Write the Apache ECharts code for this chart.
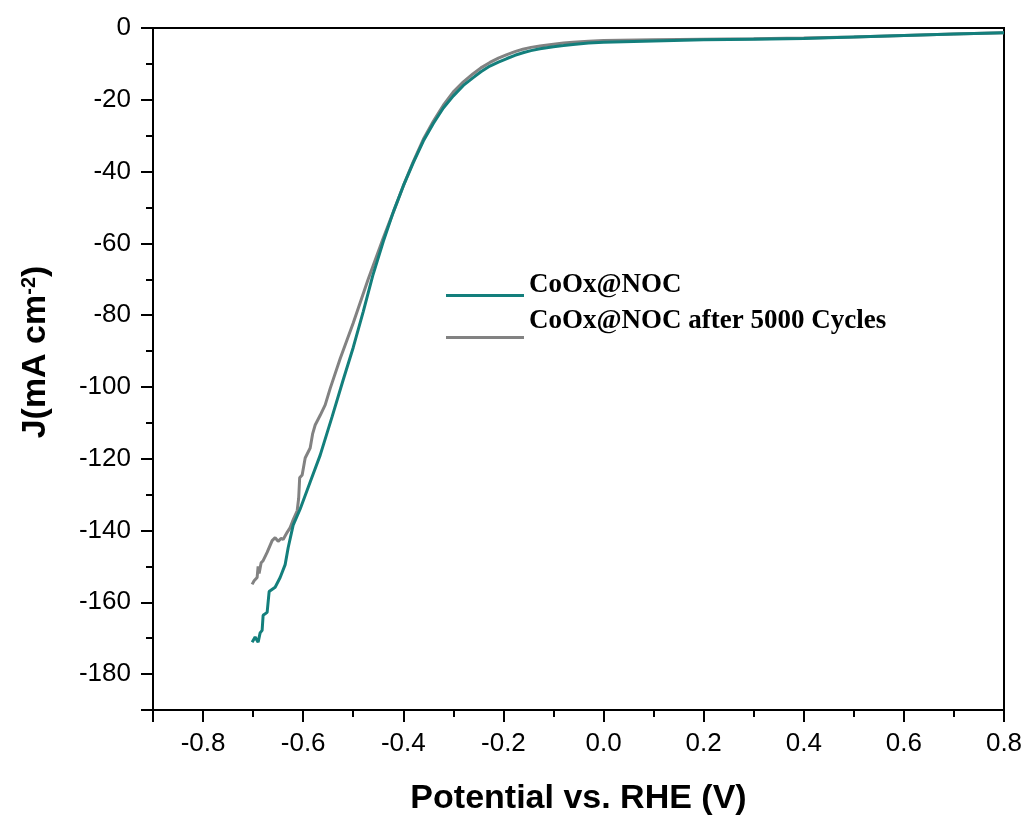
<!DOCTYPE html>
<html>
<head>
<meta charset="utf-8">
<script src="https://cdn.jsdelivr.net/npm/echarts@6/dist/echarts.min.js"></script>
<style>
html,body{margin:0;padding:0;background:#fff;}
#chart{width:1026px;height:821px;}
</style>
</head>
<body>
<div id="chart"></div>
<script>
// Potential (V vs RHE) and current density (mA cm^-2)
const seriesNames = ['CoOx@NOC', 'CoOx@NOC after 5000 Cycles'];

const freshX = [-0.702,-0.696,-0.690,-0.686,-0.682,-0.680,-0.672,-0.668,-0.656,-0.646,-0.636,-0.630,-0.620,-0.606,-0.586,-0.566,-0.542,-0.520,-0.500,-0.480,-0.461,-0.440,-0.420,-0.400,-0.380,-0.360,-0.340,-0.320,-0.300,-0.280,-0.261,-0.245,-0.227,-0.210,-0.193,-0.177,-0.161,-0.145,-0.127,-0.100,-0.080,-0.061,-0.030,0.000,0.100,0.200,0.300,0.400,0.500,0.600,0.700,0.800];
const freshY = [-171.1,-169.7,-171.1,-168.5,-167.8,-163.6,-162.8,-157.0,-155.8,-153.1,-149.5,-144.8,-138.5,-134.0,-126.5,-119.0,-108.2,-98.0,-89.0,-79.0,-69.0,-59.5,-51.3,-44.0,-37.5,-31.5,-26.6,-22.3,-18.9,-16.0,-13.9,-12.2,-10.6,-9.5,-8.5,-7.6,-6.9,-6.3,-5.8,-5.2,-4.9,-4.6,-4.2,-4.0,-3.6,-3.3,-3.1,-2.9,-2.5,-2.1,-1.7,-1.3];

const cycledX = [-0.702,-0.698,-0.692,-0.690,-0.688,-0.684,-0.680,-0.672,-0.662,-0.656,-0.650,-0.644,-0.640,-0.632,-0.626,-0.620,-0.612,-0.609,-0.607,-0.602,-0.596,-0.586,-0.581,-0.576,-0.566,-0.556,-0.546,-0.526,-0.500,-0.470,-0.440,-0.420,-0.400,-0.380,-0.360,-0.340,-0.320,-0.300,-0.280,-0.261,-0.245,-0.227,-0.210,-0.193,-0.177,-0.161,-0.145,-0.127,-0.100,-0.080,-0.061,-0.030,0.000,0.100,0.200,0.300,0.400,0.500,0.600,0.700,0.800];
const cycledY = [-155.0,-154.0,-153.1,-150.0,-152.0,-149.0,-148.4,-146.1,-142.8,-142.0,-143.0,-142.2,-142.5,-140.5,-139.2,-137.0,-134.5,-131.0,-125.3,-124.5,-119.8,-117.0,-113.0,-110.6,-107.9,-105.0,-100.4,-92.1,-82.2,-69.9,-58.5,-51.3,-44.0,-37.2,-31.0,-26.0,-21.5,-17.8,-15.0,-12.8,-11.1,-9.6,-8.4,-7.4,-6.6,-5.9,-5.4,-5.0,-4.5,-4.2,-4.0,-3.7,-3.5,-3.3,-3.1,-3.0,-2.8,-2.5,-2.1,-1.7,-1.3];

const xRange = [-0.9, 0.8];
const yRange = [-190, 0];
const xTitle = 'Potential vs. RHE (V)';

function zip(xs, ys){ return xs.map((x,i)=>[x, ys[i]]); }

// legend icons: a 78px line drawn low inside a 35px-high box (tiny invisible anchors keep the box size)
const anchors = 'M0,0L0.01,0L0.01,0.01ZM77.99,35L78,35L78,34.99Z';
const icon1 = 'path://' + anchors + 'M0,26L78,26L78,29L0,29Z';
const icon2 = 'path://' + anchors + 'M0,32L78,32L78,35L0,35Z';

const chart = echarts.init(document.getElementById('chart'));
chart.setOption({
  animation: false,
  backgroundColor: '#fff',
  grid: { left: 153, right: 22, top: 28, bottom: 107, show: true, borderColor: '#000', borderWidth: 2, containLabel: false },
  legend: {
    orient: 'vertical',
    left: 446, top: 268, padding: 0,
    itemWidth: 78, itemHeight: 35,
    itemGap: 1,
    data: [
      { name: seriesNames[0], icon: icon1 },
      { name: seriesNames[1], icon: icon2 }
    ],
    textStyle: { fontFamily: '"Liberation Serif","Times New Roman",serif', fontWeight: 'bold', fontSize: 27, color: '#000' }
  },
  xAxis: {
    type: 'value', min: xRange[0], max: xRange[1], splitNumber: 8,
    name: xTitle, nameLocation: 'middle', nameGap: 72,
    nameTextStyle: { fontFamily: '"Liberation Sans",Arial,sans-serif', fontWeight: 'bold', fontSize: 34, color: '#000' },
    axisLine: { onZero: false, lineStyle: { color: '#000', width: 2 } },
    axisTick: { inside: false, length: 12, lineStyle: { color: '#000', width: 2 } },
    minorTick: { show: true, splitNumber: 2, length: 7, lineStyle: { color: '#000', width: 2 } },
    axisLabel: { showMinLabel: false, margin: 21, fontFamily: '"Liberation Sans",Arial,sans-serif', fontSize: 26, color: '#000',
      formatter: v => v.toFixed(1) },
    splitLine: { show: false }
  },
  yAxis: {
    type: 'value', min: yRange[0], max: yRange[1], splitNumber: 10,
    name: '{a|J(mA cm}{s|-2}{a|)}', nameLocation: 'middle', nameGap: 100, nameRotate: 90,
    nameTextStyle: {
      padding: [0, 0, 0, 34],
      rich: {
        a: { fontFamily: '"Liberation Sans",Arial,sans-serif', fontWeight: 'bold', fontSize: 34, color: '#000' },
        s: { fontFamily: '"Liberation Sans",Arial,sans-serif', fontWeight: 'bold', fontSize: 20, color: '#000', verticalAlign: 'top', padding: [0,0,14,0] }
      }
    },
    axisLine: { onZero: false, lineStyle: { color: '#000', width: 2 } },
    axisTick: { inside: false, length: 12, lineStyle: { color: '#000', width: 2 } },
    minorTick: { show: true, splitNumber: 2, length: 7, lineStyle: { color: '#000', width: 2 } },
    axisLabel: { showMinLabel: false, margin: 22, fontFamily: '"Liberation Sans",Arial,sans-serif', fontSize: 26, color: '#000' },
    splitLine: { show: false }
  },
  series: [
    { name: seriesNames[0], type: 'line', data: zip(freshX, freshY), showSymbol: false, smooth: false,
      lineStyle: { color: '#137f7c', width: 3 }, itemStyle: { color: '#137f7c' }, z: 3 },
    { name: seriesNames[1], type: 'line', data: zip(cycledX, cycledY), showSymbol: false, smooth: false,
      lineStyle: { color: '#828282', width: 3 }, itemStyle: { color: '#828282' }, z: 2 }
  ]
});
</script>
</body>
</html>
